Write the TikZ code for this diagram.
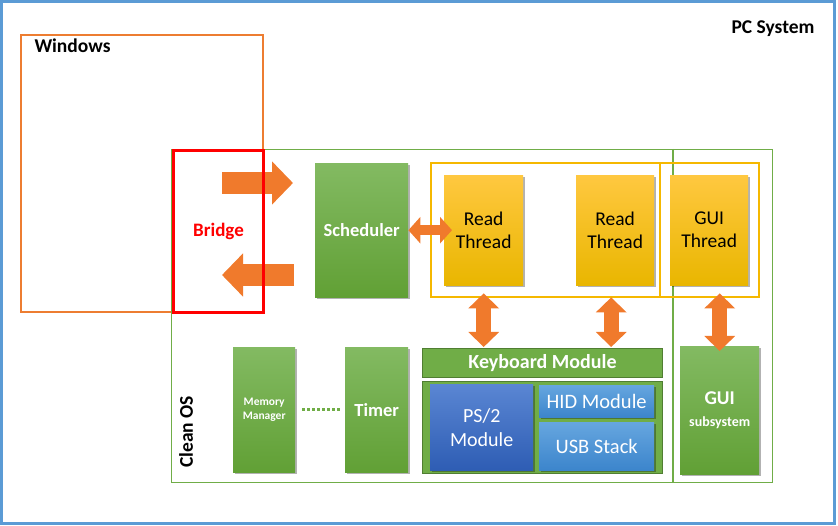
\documentclass[tikz,border=0pt]{standalone}
\usepackage{fontspec}
\setmainfont{Carlito}
\usetikzlibrary{arrows.meta,shadows,positioning}
\definecolor{frameblue}{HTML}{5B9BD5}
\definecolor{winorange}{HTML}{ED7D31}
\definecolor{osgreen}{HTML}{70AD47}
\definecolor{darkgreen}{HTML}{507E32}
\definecolor{greentop}{HTML}{83BA62}
\definecolor{greenbot}{HTML}{61A035}
\definecolor{yellowtop}{HTML}{FFC840}
\definecolor{yellowbot}{HTML}{E9B600}
\definecolor{threadline}{HTML}{F5B800}
\definecolor{bluetop}{HTML}{5A86D3}
\definecolor{bluebot}{HTML}{2E5DB4}
\definecolor{skytop}{HTML}{66A6DF}
\definecolor{skybot}{HTML}{3C85CC}
\definecolor{arroworange}{HTML}{F07A2C}
\definecolor{bridgered}{HTML}{FF0000}
\newcommand{\px}[2]{\fontsize{#1}{#2}\selectfont}
\tikzset{>=stealth,
  block/.style={anchor=north west,inner sep=0pt,align=center,
    drop shadow={shadow xshift=1.5pt,shadow yshift=-1.5pt,opacity=.3,fill=black}},
  greenbox/.style={block,top color=greentop,bottom color=greenbot,text=white,font=\bfseries\px{18.5}{22}},
  threadbox/.style={block,top color=yellowtop,bottom color=yellowbot,text=black,font=\px{19.5}{23}},
  ps2box/.style={block,top color=bluetop,bottom color=bluebot,text=white,font=\px{20}{24}},
  usbbox/.style={block,top color=skytop,bottom color=skybot,text=white,font=\px{20.5}{24}},
  region/.style={draw=#1,anchor=north west,inner sep=0pt,line width=1.2pt},
  kbdbar/.style={draw=darkgreen,fill=osgreen,anchor=north west,inner sep=0pt,line width=1pt},
  fat/.style={arroworange,line width=22pt,-{Triangle[length=21pt,width=42pt]}},
  twinh/.style={arroworange,line width=10pt,{Triangle[length=12pt,width=26pt]}-{Triangle[length=12pt,width=26pt]}},
  twinv/.style={arroworange,line width=15pt,{Triangle[length=15pt,width=30pt]}-{Triangle[length=15pt,width=30pt]}}
}
\begin{document}
\begin{tikzpicture}[x=1pt,y=-1pt]
  \useasboundingbox (0,0) rectangle (838,526);
  \draw [frameblue,line width=3pt] (1.5,1.5) rectangle (834,523.5);
  \node [font=\bfseries\px{19.5}{23}] (pc) at (773,29) {PC System};

  \coordinate (win) at (21,35);
  \draw [winorange,line width=1.1pt] (win) rectangle (263,312);
  \node [anchor=west,font=\bfseries\px{19.5}{23}] (winlabel) at (31,46) {Windows};

  \node [region=osgreen,minimum width=601pt,minimum height=333pt] (os) at (171,149) {};
  \draw [osgreen,line width=1.2pt] ([xshift=502pt]os.north west) -- ([xshift=502pt]os.south west);
  \node [rotate=90,font=\bfseries\px{19.5}{23}] (oslabel) at (186,432) {Clean OS};

  \coordinate (threads) at (431,163);
  \draw [threadline,line width=1.2pt] (threads) rectangle (759,297);
  \draw [threadline,line width=1.2pt] (660,163) -- (660,297);

  \node [greenbox,minimum width=93pt,minimum height=134pt] (sched) at (315,163) {Scheduler};
  \node [threadbox,minimum width=79pt,minimum height=110pt] (read1) at (444,175) {Read\\Thread};
  \node [threadbox,minimum width=78pt,minimum height=110pt] (read2) at (576,175) {Read\\Thread};
  \node [threadbox,minimum width=78pt,minimum height=110pt] (guith) at (670,175) {GUI\\Thread};

  \node [kbdbar,minimum width=240pt,minimum height=29pt,text=white,font=\bfseries\px{20}{24}] (kbd) at (422,348) {Keyboard Module};
  \node [kbdbar,minimum width=240pt,minimum height=92pt] (drivers) at (422,381) {};
  \node [ps2box,minimum width=103pt,minimum height=86pt] (ps2) at (430,384) {PS/2\\Module};
  \node [usbbox,minimum width=115pt,minimum height=32pt] (hid) at (539,385) {HID Module};
  \node [usbbox,minimum width=115pt,minimum height=48pt] (usb) at (539,422) {USB Stack};

  \node [greenbox,minimum width=62pt,minimum height=125pt,font=\bfseries\px{11.5}{14}] (mem) at (233,347) {Memory\\Manager};
  \node [greenbox,minimum width=63pt,minimum height=125pt] (timer) at (345,347) {Timer};
  \node [greenbox,minimum width=79pt,minimum height=128pt,font=\bfseries\px{19.5}{22}] (guisub) at (680,346) {GUI\\{\px{14}{16}subsystem}};
  \draw [osgreen,line width=2.5pt,dash pattern=on 2.5pt off 2.5pt,shorten <=7pt,shorten >=4pt] (mem) -- (timer);

  \coordinate (inA) at (222,183);
  \coordinate (outA) at (222,275);
  \draw [fat,shorten >=22pt] (inA) -- (sched.west |- inA);
  \draw [fat,shorten <=21pt] (sched.west |- outA) -- (outA);
  \node [draw=bridgered,line width=3pt,anchor=north west,minimum width=90pt,minimum height=162pt,inner sep=0pt,text=bridgered,font=\bfseries\px{19}{23}] (bridge) at (172,149) {\raisebox{3pt}{Bridge}};

  \draw [twinh,shorten >=-8pt] (sched.east) -- (read1.west);
  \coordinate (r2) at ([xshift=-4pt]read2.south);
  \draw [twinv,shorten <=8pt,shorten >=1pt] (read1.south) -- (read1.south |- kbd.north);
  \draw [twinv,shorten <=12pt,shorten >=1pt] (r2) -- (r2 |- kbd.north);
  \draw [twinv,shorten <=8pt,shorten >=-5pt] (guisub.north |- guith.south) -- (guisub.north);
\end{tikzpicture}
\end{document}
